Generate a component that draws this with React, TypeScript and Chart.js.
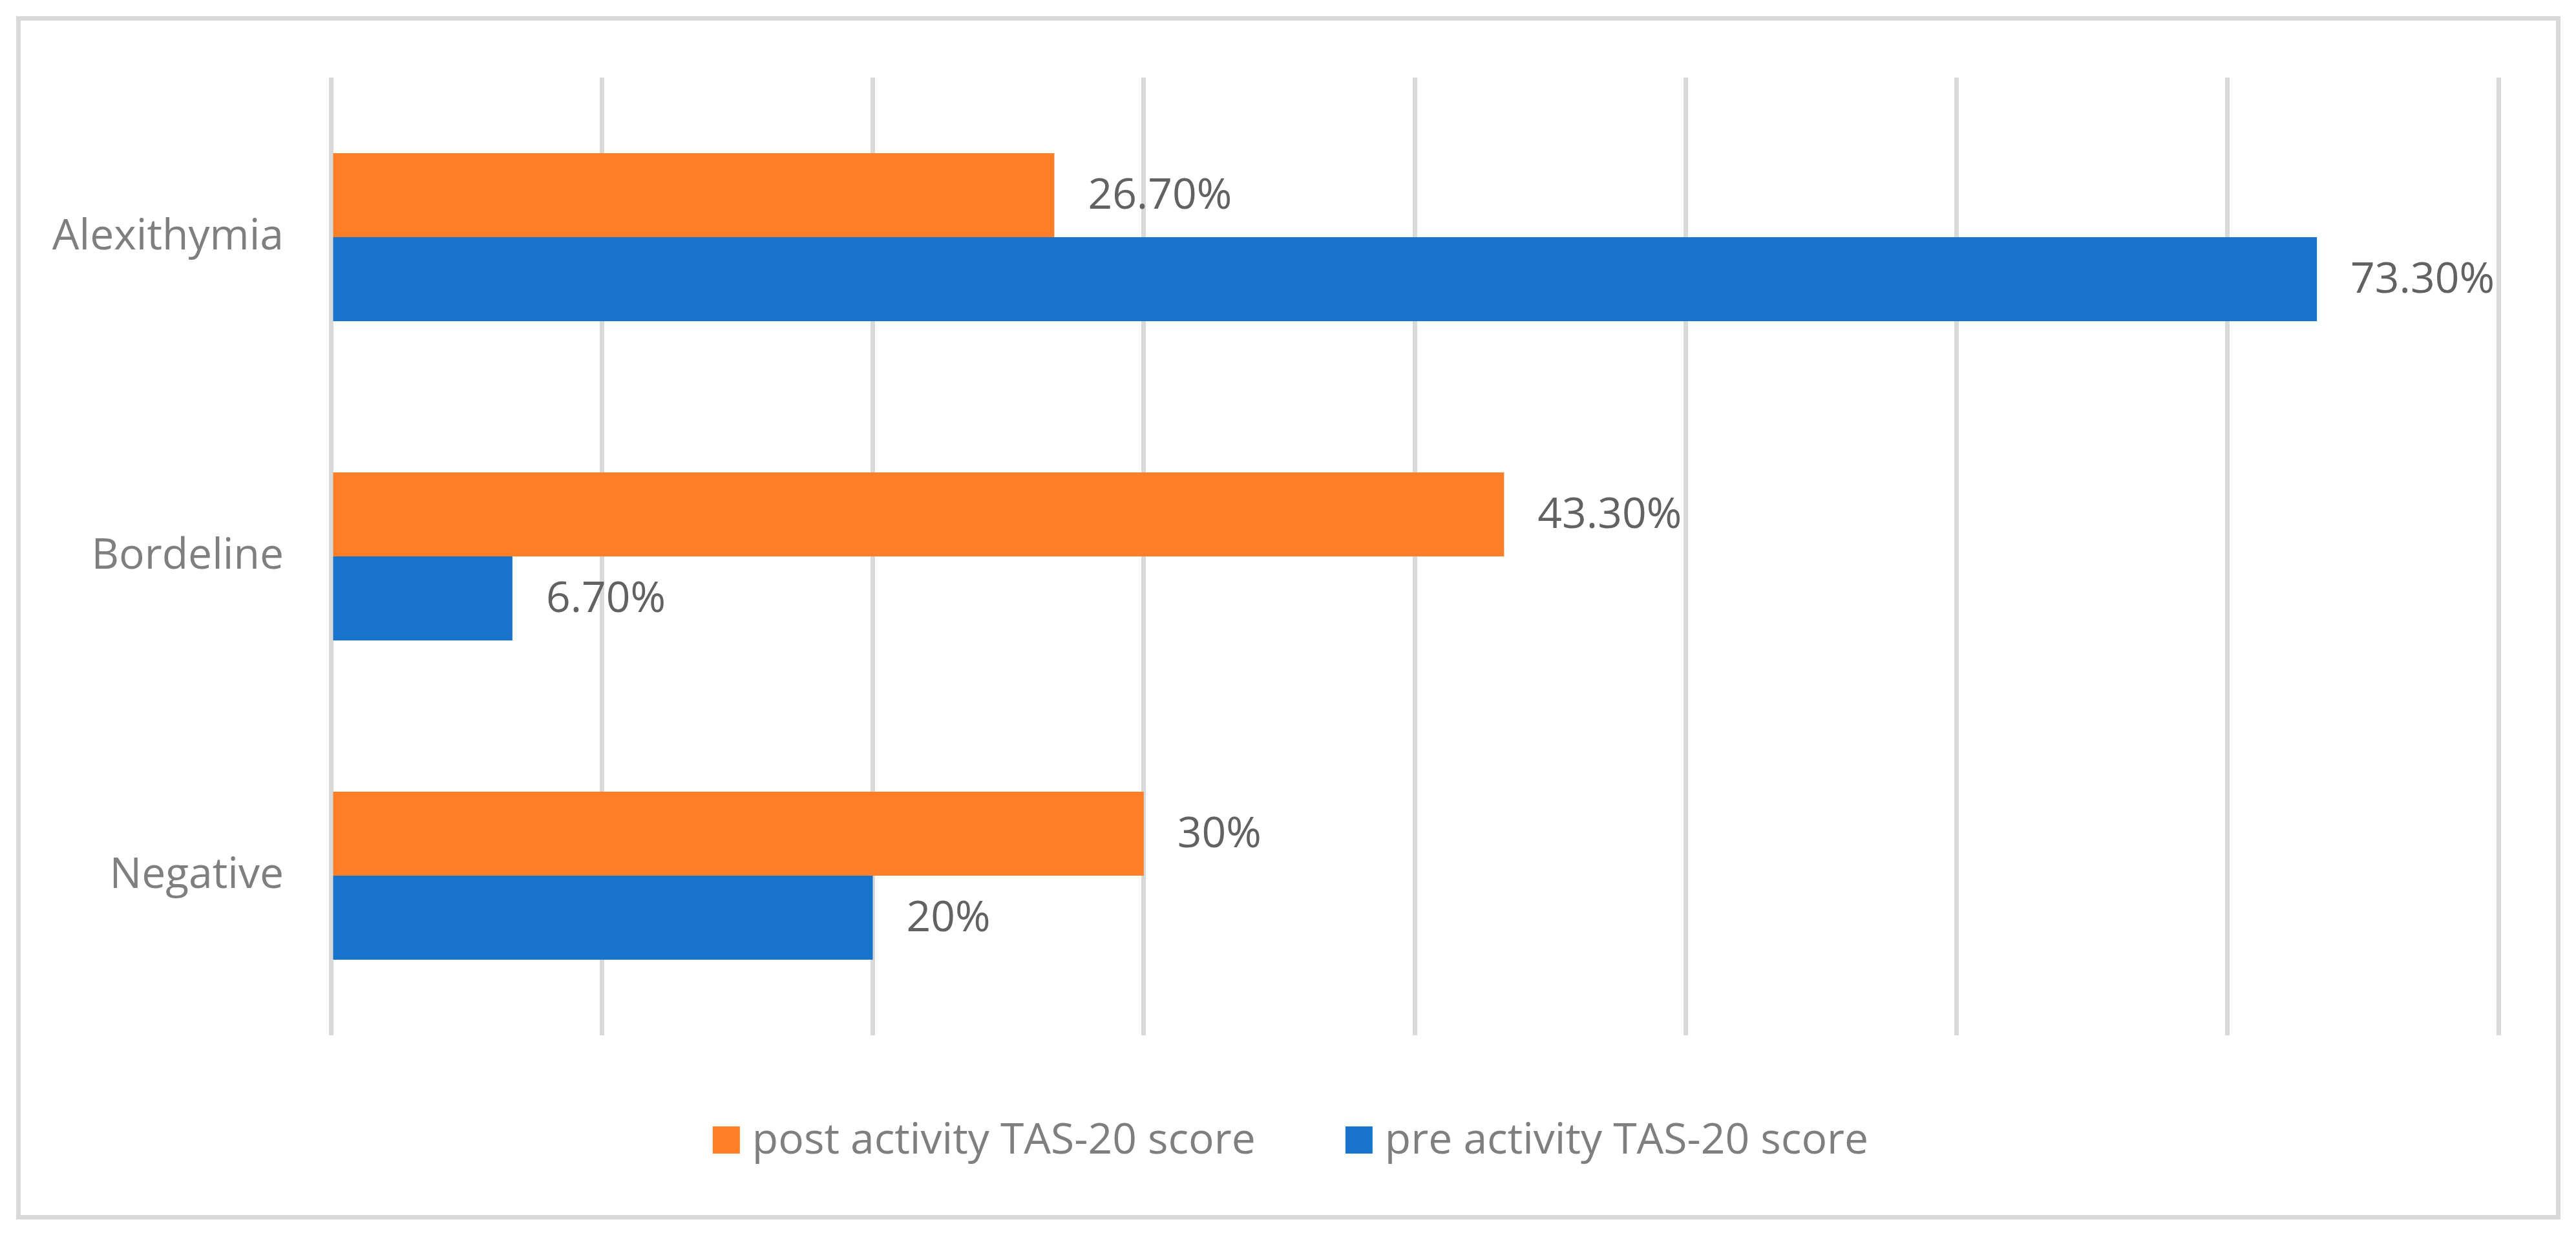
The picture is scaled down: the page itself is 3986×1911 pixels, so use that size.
import React, { useEffect, useRef } from 'react';
import { Chart, registerables } from 'chart.js';

Chart.register(...registerables);

// chart data
const categories = ['Alexithymia', 'Bordeline', 'Negative'];
const seriesNames = ['post activity TAS-20 score', 'pre activity TAS-20 score'];
const postValues = [26.7, 43.3, 30];
const preValues = [73.3, 6.7, 20];
const postLabels = ['26.70%', '43.30%', '30%'];
const preLabels = ['73.30%', '6.70%', '20%'];
const xTicks = [0, 10, 20, 30, 40, 50, 60, 70, 80];

const valueLabels = [postLabels, preLabels];

const FONT = "'Open Sans', sans-serif";
const FONT_SIZE = 66;
const GRID = '#d9d9d9';

// value labels to the right of every bar
const barLabels = {
    id: 'barLabels',
    afterDatasetsDraw(chart: any) {
        const ctx = chart.ctx;
        ctx.save();
        ctx.font = `${FONT_SIZE}px ${FONT}`;
        ctx.fillStyle = '#626262';
        ctx.textAlign = 'left';
        ctx.textBaseline = 'middle';
        chart.data.datasets.forEach((_ds: any, i: number) => {
            const meta = chart.getDatasetMeta(i);
            meta.data.forEach((bar: any, j: number) => {
                const p = bar.getProps(['x', 'y'], true);
                ctx.fillText(valueLabels[i][j], p.x + 52, p.y + 2);
            });
        });
        ctx.restore();
    }
};

// legend under the plot, Excel style (small square, tight gap)
const bottomLegend = {
    id: 'bottomLegend',
    afterDraw(chart: any) {
        const ctx = chart.ctx;
        const box = 42;
        const gap = 19;
        const spacing = 139;
        ctx.save();
        ctx.font = `${FONT_SIZE}px ${FONT}`;
        const items = chart.data.datasets.map((ds: any) => ({
            text: ds.label as string,
            color: ds.backgroundColor as string,
            w: ctx.measureText(ds.label).width
        }));
        const total = items.reduce((s: number, it: any) => s + box + gap + it.w, 0) + spacing * (items.length - 1);
        let x = chart.width / 2 + 4 - total / 2;
        const top = chart.chartArea.bottom + 141;
        ctx.textAlign = 'left';
        ctx.textBaseline = 'alphabetic';
        items.forEach((it: any) => {
            ctx.fillStyle = it.color;
            ctx.fillRect(x, top, box, box);
            ctx.fillStyle = '#7f7f7f';
            ctx.fillText(it.text, x + box + gap, top + box);
            x += box + gap + it.w + spacing;
        });
        ctx.restore();
    }
};

const App = () => {
    const canvasRef = useRef<HTMLCanvasElement | null>(null);

    useEffect(() => {
        document.body.style.margin = '0';
        const canvas = canvasRef.current;
        if (!canvas) return;
        const ctx = canvas.getContext('2d');
        if (!ctx) return;

        const myChart = new Chart(ctx, {
            type: 'bar',
            data: {
                labels: categories,
                datasets: [
                    {
                        label: seriesNames[0],
                        data: postValues,
                        backgroundColor: '#fe7f27',
                        barPercentage: 1,
                        categoryPercentage: 0.526
                    },
                    {
                        label: seriesNames[1],
                        data: preValues,
                        backgroundColor: '#1874ca',
                        barPercentage: 1,
                        categoryPercentage: 0.526
                    }
                ]
            },
            options: {
                indexAxis: 'y',
                animation: false,
                responsive: true,
                maintainAspectRatio: false,
                layout: {
                    padding: { top: 120, bottom: 309, left: 0, right: 120 }
                },
                plugins: {
                    legend: { display: false },
                    tooltip: { enabled: false }
                },
                scales: {
                    x: {
                        min: xTicks[0],
                        max: xTicks[xTicks.length - 1],
                        ticks: { display: false, stepSize: xTicks[1] - xTicks[0] },
                        grid: { color: GRID, lineWidth: 7, drawTicks: false },
                        border: { display: false },
                        afterFit: (scale: any) => { scale.height = 0; }
                    },
                    y: {
                        grid: { display: false, drawTicks: false },
                        border: { display: false },
                        ticks: {
                            color: '#7f7f7f',
                            padding: 73,
                            font: { family: FONT, size: FONT_SIZE }
                        },
                        afterFit: (scale: any) => { scale.width = 512; }
                    }
                }
            },
            plugins: [barLabels, bottomLegend]
        });

        return () => {
            myChart.destroy();
        };
    }, []);

    return (
        <div style={{ position: 'relative', width: 3986, height: 1911, background: '#fff' }}>
            <div style={{
                position: 'absolute', left: 25, top: 25, width: 3937, height: 1862,
                boxSizing: 'border-box', border: `7px solid ${GRID}`
            }} />
            <div style={{ position: 'absolute', left: 0, top: 0, width: 3986, height: 1911 }}>
                <canvas ref={canvasRef}></canvas>
            </div>
        </div>
    );
};

export default App;
